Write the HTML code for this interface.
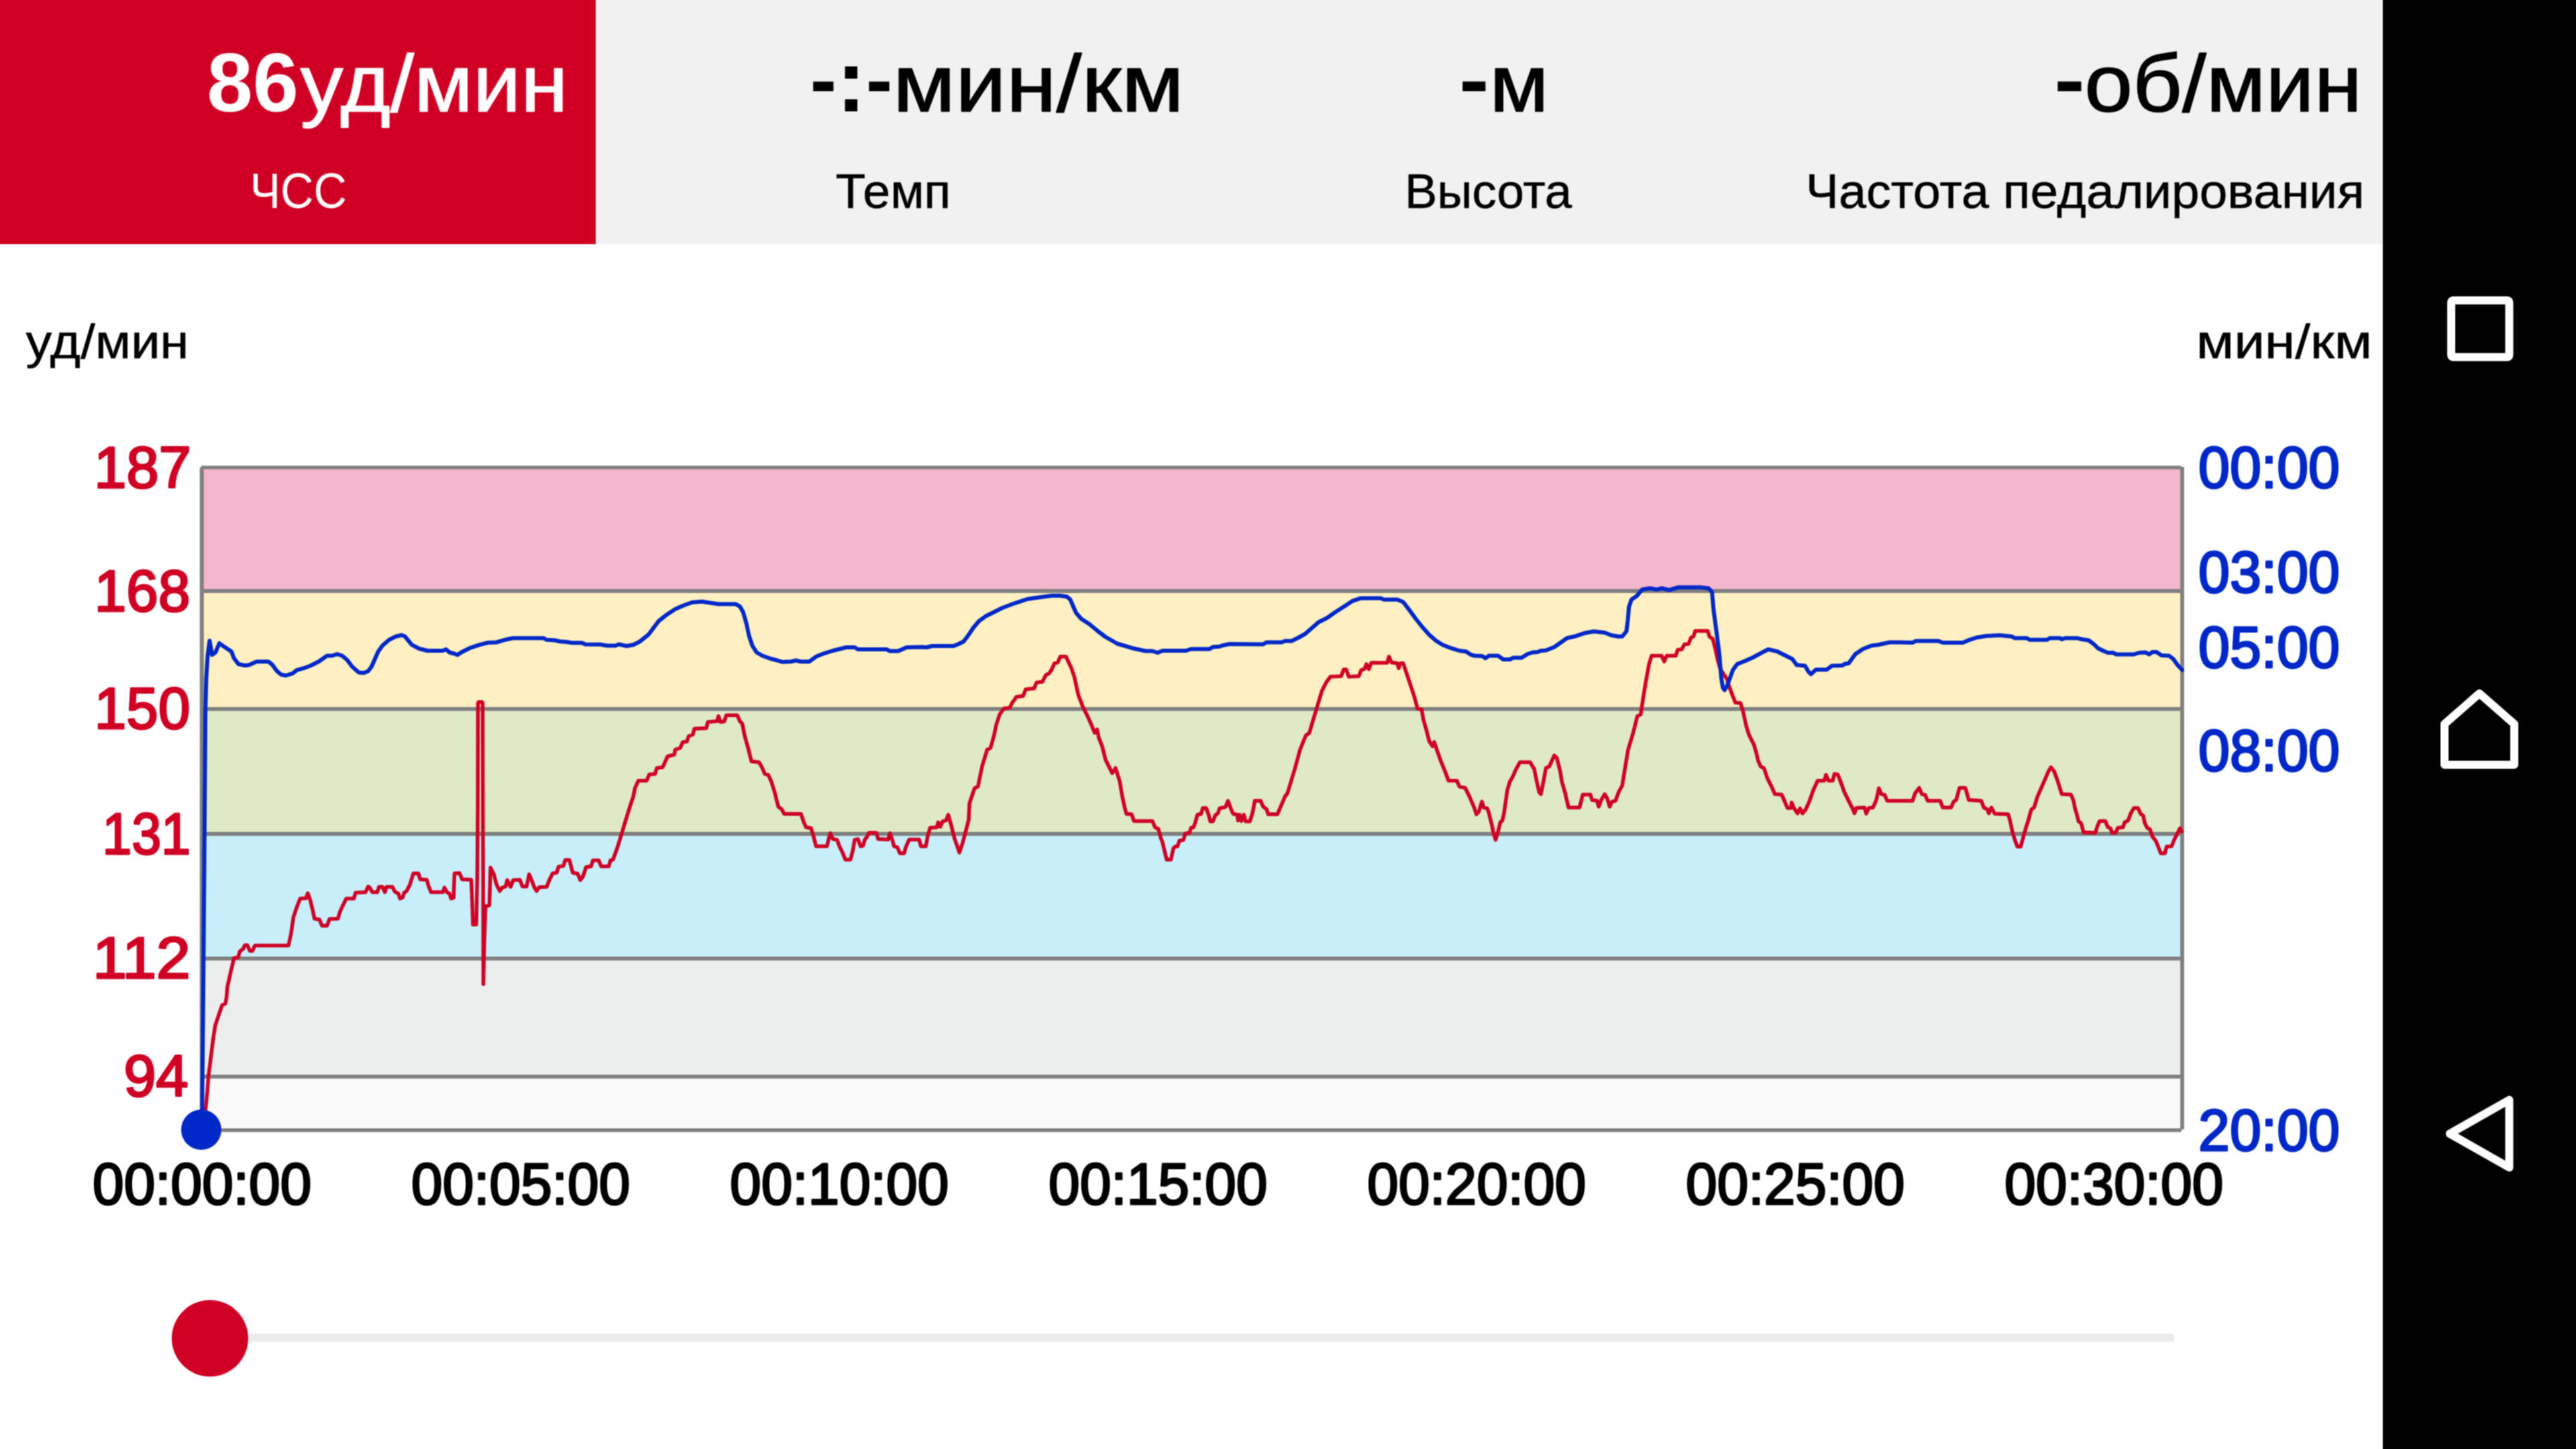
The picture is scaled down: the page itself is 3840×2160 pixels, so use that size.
<!DOCTYPE html>
<html lang="ru">
<head>
<meta charset="utf-8">
<title>ЧСС</title>
<style>
html,body{margin:0;padding:0;background:#fff}
body{width:3840px;height:2160px;overflow:hidden;position:relative;font-family:"Liberation Sans",sans-serif}
svg{position:absolute;left:-20px;top:-20px;display:block}
text{font-family:"Liberation Sans",sans-serif;white-space:pre}
</style>
</head>
<body>
<svg width="3880" height="2200" viewBox="-20 -20 3880 2200">
<defs><filter id="soft" filterUnits="userSpaceOnUse" x="-20" y="-20" width="3880" height="2200" color-interpolation-filters="sRGB"><feConvolveMatrix order="3" kernelMatrix="0.0625 0.1250 0.0625 0.1250 0.2500 0.1250 0.0625 0.1250 0.0625" divisor="1" edgeMode="duplicate" preserveAlpha="true"/></filter></defs>
<g id="scene">
<!-- page background, header tiles, system navigation bar -->
<rect x="-20" y="-20" width="3880" height="2200" fill="#fff"/>
<rect x="-20" y="-20" width="3572" height="384" fill="#f1f1f1"/>
<rect x="-20" y="-20" width="908" height="384" fill="#d00024"/>
<rect x="3552" y="-20" width="308" height="2200" fill="#000"/>
<!-- heart-rate zones -->
<rect x="300.8" y="696.9" width="2952.2" height="184.1" fill="#f4b6cc"/>
<rect x="300.8" y="881" width="2952.2" height="175.8" fill="#fef0c2"/>
<rect x="300.8" y="1056.8" width="2952.2" height="186.2" fill="#e0e9c6"/>
<rect x="300.8" y="1243" width="2952.2" height="185.9" fill="#c7eef9"/>
<rect x="300.8" y="1428.9" width="2952.2" height="176" fill="#eceeed"/>
<rect x="300.8" y="1604.9" width="2952.2" height="79.9" fill="#f9f9f9"/>
<g stroke="#808080" fill="none" stroke-width="5.8">
<line x1="300.8" y1="881" x2="3253" y2="881"/>
<line x1="300.8" y1="1056.8" x2="3253" y2="1056.8"/>
<line x1="300.8" y1="1243" x2="3253" y2="1243"/>
<line x1="300.8" y1="1428.9" x2="3253" y2="1428.9"/>
<line x1="300.8" y1="1604.9" x2="3253" y2="1604.9"/>
<line x1="300" y1="696.9" x2="3251.8" y2="696.9" stroke-width="5.4"/>
<line x1="300" y1="1684.8" x2="3251.8" y2="1684.8" stroke-width="5.6"/>
<line x1="300.8" y1="696.4" x2="300.8" y2="1685" stroke-width="6"/>
<line x1="3253" y1="696" x2="3253" y2="1683.6"/>
</g>
<!-- heart rate (red) and pace (blue) series -->
<polyline id="hr" fill="none" stroke="#d00024" stroke-width="5.5" stroke-linejoin="round" stroke-linecap="round" points="303,1685 306.5,1653.5 309,1628 310.7,1604.6 313.3,1584.4 317.5,1550.7 320.8,1528.8 325.9,1513.7 331,1498.5 336,1496 337.7,1486.7 338.8,1472 343.8,1449.5 348.8,1428.2 355,1427 357.5,1418.2 362.5,1414.5 365,1409 368.8,1409 372.5,1417.5 376.2,1417.5 380,1409.5 430,1409.5 433.8,1392 437.5,1367 442.5,1352 447.5,1339.5 456.2,1339 458.8,1331.5 462.5,1342 466.2,1357 468.8,1369.5 476.2,1370.8 480,1380 487.5,1380 491.2,1370 503.8,1369.5 506.2,1360.8 510,1352 516.2,1339.5 527.5,1339.5 530,1330.8 545,1330 548.8,1321.5 551.2,1323.2 555,1330 562.5,1330 565,1322 570,1322 573.8,1330 576.2,1322 585,1322 588.8,1329.5 593.8,1332 596.2,1339.5 600,1338.2 602.5,1330.8 606.2,1328.2 611.2,1318.2 616.2,1302 623.8,1302 626.2,1310.8 636.2,1311.5 638.8,1320.8 642.5,1330 660,1330 662.5,1323.2 666.2,1330 670,1332 672.5,1339.5 676.2,1338.2 677.5,1302 685,1301.5 688.8,1310.8 702.5,1311.5 703.8,1342 705,1378.2 710,1378.2 711.5,1302 712.2,1202 712.5,1048.2 713.5,1046.5 718.5,1046.5 719.5,1048.2 719.8,1202 720.2,1327 720.5,1467 722,1402 723.8,1350.8 729.5,1349.5 731.2,1293.2 736.2,1303.2 740,1318.2 745,1328.2 748.8,1323.2 753.8,1321.5 756.2,1312 761.2,1322 765,1312 775,1311.5 778.8,1321.5 785,1321.5 788.8,1303.2 792.5,1312 796.2,1322 800,1328.2 803.8,1322.5 815,1322 818.8,1312 823.8,1302 830,1300.8 832.5,1292 840,1290.8 842.5,1282 848.8,1282 853.8,1300.8 861.2,1302.5 865,1312 868.8,1307 873.8,1292.5 881.2,1291.5 883.8,1282.5 892.5,1282.5 896.2,1291.5 907.5,1291.5 910,1282.5 913.8,1281.5 920,1264.5 926.2,1244.5 932.5,1223.2 939,1202.5 944,1187.5 946.5,1175 951.5,1163.8 964,1163.8 967.8,1154.5 976.5,1153.8 979,1145 987.8,1143.8 995.2,1127.5 1005.2,1125 1006.5,1117.5 1014,1115 1017.8,1106.2 1024,1105.5 1026.5,1097.5 1032.8,1095 1035.2,1086.2 1052.8,1085.5 1055.2,1076.2 1069,1075 1071,1067.5 1074,1076.2 1079.5,1075.5 1082.8,1066.2 1099,1066.2 1102.8,1075 1106.5,1078.8 1110.2,1097.5 1115.2,1115 1120.2,1135 1131.5,1136.2 1135.2,1142.5 1140.2,1153.8 1145.2,1155 1150.2,1166.2 1155.2,1182.5 1160.2,1202.5 1165.2,1206.2 1169,1213.2 1194,1213.2 1197.8,1224.5 1201.5,1233.2 1209,1234.5 1212.8,1247 1216.5,1261.5 1232.8,1261.5 1235.2,1250.8 1237.8,1242 1241.5,1250.8 1247.8,1252 1251.5,1262 1256.5,1272 1260.2,1281.5 1267.8,1281.5 1271.5,1267 1274,1252 1279,1250.8 1282.8,1261.5 1286.5,1260.8 1289,1252 1292.8,1247 1295.2,1241.5 1306.5,1241.5 1309,1250.8 1324,1251.5 1326.5,1242 1330.2,1252 1332.8,1261.5 1337.8,1263.2 1341.5,1272 1347.8,1272 1350.2,1263.2 1355.2,1251.5 1370.2,1251.5 1372.8,1261.5 1380.2,1261.5 1382.8,1247 1386.5,1234 1396.5,1233.2 1398.5,1225.8 1401.5,1232.5 1405.2,1224.5 1410.2,1223.2 1413.5,1214.5 1417.8,1229.5 1422.8,1249.5 1430.2,1270.8 1435.2,1255.8 1440.2,1237 1444,1222 1445.2,1197.5 1452.8,1175 1457.8,1172.5 1464,1142.5 1471.5,1117.5 1476.5,1115 1481.5,1097.5 1485.2,1080 1490.2,1065 1496.5,1056.2 1505.2,1055 1509,1047.5 1515.2,1038.8 1525.2,1037.5 1529,1027.5 1541.5,1026.2 1545.2,1017.5 1554,1016.2 1559,1006.2 1564,1003.8 1568,997.5 1571.8,988.8 1576.8,987.5 1580.5,978.8 1589.2,978.8 1593,987.5 1596.8,995 1601.8,1010 1605.5,1027.5 1608,1037.5 1614.2,1053.8 1620.5,1066.2 1626.8,1080 1631.8,1092.5 1635.5,1087.5 1638,1100 1643,1112.5 1648,1132.5 1654.2,1145 1658,1152.5 1663,1145 1669.2,1165 1673,1187.5 1676.8,1205 1679.2,1213.2 1686.8,1213.8 1690.5,1224 1718,1224 1721.8,1233.2 1726.8,1235.8 1730.5,1249.5 1733,1255.8 1736.8,1272 1739.2,1281.5 1745.5,1281.5 1749.2,1264.5 1751.8,1262 1755.5,1261.5 1758,1253.2 1764.2,1252 1766.8,1242.5 1773,1241.5 1775.5,1234 1779.2,1233.2 1781.8,1225.8 1785,1214.5 1790.5,1213.2 1793,1204.5 1798,1204.5 1801.8,1215 1804.2,1224.5 1808,1224.5 1811.8,1215 1815.5,1212.5 1818,1205 1826.8,1203 1830.5,1193.8 1834.2,1203.8 1838,1213 1844.2,1214.5 1845.5,1223.2 1848,1214.5 1850.5,1224 1854.2,1214.5 1856.8,1224.5 1863,1224.5 1866.8,1213.2 1868.5,1205 1870.5,1193.8 1879.2,1193.8 1883,1202.5 1888,1206.2 1890.5,1213.8 1904.2,1213.8 1908,1205 1915.5,1187.5 1919.2,1182.5 1923,1170 1930.5,1145 1938,1117.5 1943,1105 1946.8,1096.2 1951.8,1092.5 1955.5,1080 1963,1055 1970.5,1030 1976.8,1017.5 1983,1008.8 1999.2,1008 2003,998 2006.8,998 2010.5,1008.8 2025.5,1008 2029.2,998.8 2034.2,997 2036.8,990 2040.5,997.5 2044.2,988 2068,988 2070.5,978.8 2074.2,987.5 2083,988.8 2085,996.2 2087.5,988.8 2091.8,988.8 2096.8,1003.8 2103,1022.5 2108,1037.5 2113,1056.2 2119.2,1057.5 2121.8,1072.5 2126.8,1090 2130.5,1105 2135.5,1112.5 2138,1106.2 2141.8,1117.5 2148,1135 2154.2,1150 2159.2,1163.8 2171.8,1163.8 2175.5,1172.5 2184.2,1174.5 2190.5,1187.5 2198,1205 2200.8,1213.8 2204.5,1210 2209,1195 2212,1203.8 2217,1205 2219.5,1212 2223.2,1227 2227,1244.5 2229.5,1252 2233.2,1239.5 2236.5,1225.8 2239.5,1223.2 2242,1212.5 2247,1177.5 2250.8,1165 2254.5,1158.8 2259.5,1147.5 2265.8,1136.2 2280.8,1136.2 2287,1146.2 2290.8,1165 2294.5,1181.2 2297,1183.8 2300.8,1165 2304.5,1145 2309.5,1142.5 2317,1126.2 2320.8,1130 2325.8,1150 2328.2,1165 2333.2,1182.5 2338.2,1203.8 2354.5,1203.8 2359.5,1184.5 2370.8,1184.5 2373.2,1192.5 2380.8,1193.8 2383.2,1202.5 2387,1192.5 2392,1183.8 2395.8,1190 2399.5,1202.5 2403.2,1195 2408.2,1193.8 2413.2,1180 2418.2,1171.2 2422,1147.5 2427,1117.5 2434.5,1092.5 2440.8,1067.5 2445.8,1065 2449.5,1040 2453.2,1017.5 2458.2,990 2462,977.5 2477,977.5 2480.8,986.2 2484.5,977.5 2498.2,977.5 2500.8,968.8 2507,968 2510.8,960.5 2517,960 2520.8,950.5 2524.5,948.8 2527,940.5 2545.8,940.5 2548.2,948.8 2553.2,952.5 2557,967.5 2560.8,985 2564.5,997.5 2569.5,1005 2574.5,1012.5 2578.2,1025 2582,1035 2587,1047.5 2594.5,1048 2598.2,1060 2603.2,1082.5 2607,1095 2614.5,1110 2618.2,1122.5 2620.8,1133.8 2624.5,1142.5 2629.5,1145 2634.5,1160 2640.8,1172.5 2645.8,1183.8 2655.8,1184.5 2659.5,1192.5 2664.5,1204.5 2669.5,1204.5 2670.8,1196.2 2674.5,1205 2679.5,1212.5 2683.2,1205 2687,1212.5 2692,1206.2 2697,1195 2703.2,1177.5 2709.5,1163.8 2719.5,1163.8 2722,1155 2725.8,1163.8 2732,1163.8 2734.5,1153.8 2739.5,1154.5 2743.2,1163.8 2749.5,1181.2 2757,1196.2 2762,1206.2 2764.5,1212.5 2767,1204.5 2779.5,1203.8 2782,1213 2785.8,1204.5 2792,1203.8 2797,1192.5 2800.8,1175 2804.5,1183.8 2809.5,1185 2813.2,1193.8 2832,1193.8 2851,1193.8 2854.8,1182.5 2861,1174.5 2864.8,1183.8 2869.8,1185 2873.5,1193.8 2892.2,1193.8 2896,1203.8 2908.5,1203.8 2912.2,1195 2916,1192.5 2921,1174.5 2929.8,1174.5 2934.8,1192.5 2953.5,1193.8 2957.2,1203.8 2962.2,1206.2 2964.8,1212.5 2968.5,1203.8 2973.5,1213 2993.5,1213.8 2996,1222 2999.8,1239.5 3003.5,1252 3007.2,1262 3012.2,1262 3016,1248.2 3019.8,1234.5 3023.5,1223.2 3027.2,1209.5 3028.5,1206.2 3032.2,1203.8 3037.2,1187.5 3046,1167.5 3053.5,1150 3057.2,1143.8 3062.2,1150 3067.2,1163.8 3073.5,1183.8 3087.2,1184.5 3091,1193.8 3093,1204.5 3096,1214.5 3098.5,1224.5 3102.2,1227 3106,1240.8 3123.5,1241.5 3126,1233.2 3129.8,1224 3138.5,1224 3142.2,1233.2 3146,1234.5 3148.5,1241.5 3153.5,1241.5 3157.2,1234 3164.8,1233.2 3167.2,1225.8 3172.2,1223.2 3176,1213.2 3181,1204.5 3187.2,1204.5 3191,1213.2 3194.8,1215.8 3197.2,1227 3201,1234.5 3204.8,1235.8 3208.5,1247 3213.5,1253.2 3217.2,1262 3221,1272 3227.2,1272 3229.8,1262 3237.2,1261.5 3241,1252 3246,1242 3249.8,1234.5 3252.2,1239.5"/>
<polyline id="pace" fill="none" stroke="#0028c8" stroke-width="6.0" stroke-linejoin="round" stroke-linecap="round" points="301,1685 303,1480 305,1222 306.2,1060 307.5,1010 309.5,977.5 312.5,955 316.2,976.2 321.2,972.5 327,958.8 333.8,963.8 345,971.2 348.8,981.2 355.5,990 365,992 371.2,991.2 382.5,986.2 400,986.2 406.2,991.2 412.5,1000 418.8,1005.5 426.2,1007 436.2,1003.8 442.5,998.8 452.5,996.2 462.5,992.5 475,986.2 487.5,977.5 495,977.5 502.5,975 510,977.5 517.5,983.8 525,993.8 535,1002.5 542.5,1003 548.8,1000.5 553.8,993.8 558.8,982.5 563.8,971.2 570,962.5 580,953.8 590,948.8 598.8,946.8 603.8,948.8 608.8,955 613.8,961.2 625,967 637.5,970 660,970 665,968 670,972.5 677.5,974.5 682,976.2 687.5,972.5 700,966.2 715,961.2 727.5,958 740,957.5 752.5,953.8 765,951.2 810,951.2 815,953.8 827.5,954.5 835,956.2 845,957 852.5,958.2 867.5,958.2 872.5,960.5 895,960.8 905,962.5 917.5,962.5 922.5,960.5 934,963 944,961.2 954,956.2 966.5,946.2 974,936.2 981.5,926.2 994,916.2 1006.5,908 1019,902.5 1031.5,898 1046.5,896.8 1059,898.8 1071.5,900.5 1096.5,900.5 1102.8,903.8 1107.8,912.5 1112.8,930 1116.5,947.5 1121.5,962.5 1127.8,972.5 1136.5,977.5 1149,982 1159,984.5 1166.5,986.8 1179,986.2 1186.5,984.5 1194,986.2 1206.5,986.2 1216.5,978.8 1229,973.8 1241.5,970 1251.5,967.5 1261.5,965 1274,965 1279,968 1321.5,968 1326.5,970.5 1339,970.5 1351.5,965 1374,964.5 1381.5,965 1389,963 1421.5,963 1429,960 1436.5,956.2 1444,946.2 1451.5,935 1459,926.2 1469,918.8 1481.5,912.5 1494,906.2 1509,900.5 1531.5,893 1549,890.5 1564,888.5 1568,888 1580.5,888 1590.5,889.5 1595.5,893.8 1599.2,902.5 1604.2,913.8 1611.8,922.5 1624.2,930.5 1635.5,940 1648,949.5 1665.5,959.5 1688,966.2 1708,970.5 1718,970.5 1725.5,973 1733,970 1768,970 1775.5,967.5 1803,967.5 1808,964.5 1818,963.8 1823,962 1833,960 1883,960.5 1888,957.5 1910.5,957.5 1915.5,955.5 1925.5,955.5 1935.5,950.5 1945.5,945 1955.5,936.2 1965.5,927.5 1978,921.2 1990.5,912.5 2003,904.5 2015.5,896.2 2028,891.8 2058,891.8 2063,893.8 2083,893.8 2091.8,897.5 2100.5,908.8 2110.5,922.5 2120.5,935 2130.5,946.2 2140.5,955 2150.5,961.2 2163,966.2 2175.5,970 2185.5,971.2 2193,976.2 2198.2,977.5 2209.5,978 2214.5,981.2 2219.5,977.5 2233.2,977.5 2240.8,983 2250.8,983 2255.8,980.5 2268.2,980.5 2277,975 2284.5,972.5 2292,972 2297,970 2304.5,969.5 2317,964.5 2327,957.5 2335.8,951.2 2347,948.8 2362,943.8 2375.8,941.2 2392,943 2402,947 2412,948.8 2418.2,948.8 2424.5,941.2 2426.5,925 2428.2,905 2432,893.8 2439.5,888.8 2448.2,878.8 2459.5,877 2469.5,878.8 2477,877 2488.2,879.5 2502,875.5 2534.5,875.5 2547,877 2552,882.5 2554.5,910 2559.5,947.5 2563.2,977.5 2565.8,1010 2568.2,1025 2570.8,1028.8 2574.5,1022.5 2578.2,1012.5 2583.2,998.8 2589.5,990 2602,985 2613.2,980 2624.5,973.8 2635.8,968 2649.5,971.2 2662,977.5 2672,982.5 2678.2,991.2 2690.8,992.5 2695.8,1001.2 2699.5,1005 2707,998.2 2723.2,998.2 2730.8,992.5 2745.8,992 2750.8,989.5 2755.8,988.8 2765.8,975 2777,967.5 2789.5,962.5 2799.5,961.2 2817,957.5 2832,957.5 2851,958 2856,955.5 2889.8,955.5 2896,958 2926,958 2936,953.8 2946,950.5 2961,948 2981,947 2998.5,948.8 3003.5,951.2 3021,951.2 3026,953.8 3051,953.8 3056,951.2 3071,951.2 3073.5,953 3078.5,951.2 3096,951.2 3103.5,953 3113.5,954.5 3121,960 3127.2,966.2 3136,970.5 3142.2,973 3149.8,973 3154.8,975.5 3181,975.5 3188.5,973 3198.5,972.5 3203.5,975.5 3208.5,972 3214.8,972 3222.2,977 3233.5,977.5 3239.8,982.5 3246,991.2 3253,998.8"/>
<circle cx="300" cy="1684" r="30" fill="#0028c8"/>
<!-- seek bar -->
<rect x="313" y="1988" width="2928" height="12" fill="#ebebeb"/>
<circle cx="313" cy="1995" r="57" fill="#d00024"/>
<!-- navigation icons: recents, home, back -->
<g fill="none" stroke="#fff" stroke-width="12" stroke-linejoin="round" stroke-linecap="round">
<rect x="3654" y="447.7" width="86.5" height="84.6" rx="3" ry="3"/>
<path d="M3644 1140 L3644 1079.3 L3696 1033.8 L3748 1079.3 L3748 1140 Z"/>
<path d="M3740.5 1639.6 L3740.5 1740.4 L3651.8 1690 Z"/>
</g>
<!-- header values and captions -->
<text><tspan id="v1a" x="308.53" y="166" font-size="123.5" fill="#fff" font-weight="700" textLength="136.53" lengthAdjust="spacingAndGlyphs">86</tspan><tspan id="v1b" x="447.8" y="166" font-size="120" fill="#fff" textLength="399.05" lengthAdjust="spacingAndGlyphs" stroke="#fff" stroke-width="1.5" stroke-linejoin="round">уд/мин</tspan></text>
<text id="l1" x="372.42" y="310" font-size="75" fill="#fff" textLength="144.63" lengthAdjust="spacingAndGlyphs">ЧСС</text>
<text><tspan id="v2a" x="1207.42" y="166" font-size="120" fill="#000" font-weight="700" textLength="123.04" lengthAdjust="spacingAndGlyphs"><tspan dy="-6">-</tspan><tspan dy="6" font-size="132">:</tspan><tspan dy="-6">-</tspan></tspan><tspan id="v2b" x="1331.07" y="166" font-size="120" fill="#000" textLength="433.89" lengthAdjust="spacingAndGlyphs" stroke="#000" stroke-width="1.5" stroke-linejoin="round">мин/км</tspan></text>
<text id="l2" x="1245.6" y="309.7" font-size="73" fill="#000" textLength="171.74" lengthAdjust="spacingAndGlyphs" stroke="#000" stroke-width="0.6" stroke-linejoin="round">Темп</text>
<text><tspan id="v3a" x="2175.08" y="160" font-size="120" fill="#000" font-weight="700" textLength="44.78" lengthAdjust="spacingAndGlyphs">-</tspan><tspan id="v3b" x="2220.44" y="166" font-size="120" fill="#000" textLength="88.05" lengthAdjust="spacingAndGlyphs" stroke="#000" stroke-width="1.5" stroke-linejoin="round">м</tspan></text>
<text id="l3" x="2093.94" y="309.7" font-size="73" fill="#000" textLength="249.26" lengthAdjust="spacingAndGlyphs" stroke="#000" stroke-width="0.6" stroke-linejoin="round">Высота</text>
<text><tspan id="v4a" x="3062.04" y="160" font-size="120" fill="#000" font-weight="700" textLength="45.97" lengthAdjust="spacingAndGlyphs">-</tspan><tspan id="v4b" x="3107.3" y="166" font-size="120" fill="#000" textLength="413.68" lengthAdjust="spacingAndGlyphs" stroke="#000" stroke-width="1.5" stroke-linejoin="round">об/мин</tspan></text>
<text><tspan id="l4a" x="2691.86" y="309.7" font-size="73" fill="#000" textLength="273.22" lengthAdjust="spacingAndGlyphs" stroke="#000" stroke-width="0.6" stroke-linejoin="round">Частота</tspan> <tspan id="l4b" x="2985.87" y="309.7" font-size="73" fill="#000" textLength="538.72" lengthAdjust="spacingAndGlyphs" stroke="#000" stroke-width="0.6" stroke-linejoin="round">педалирования</tspan></text>
<!-- axis units -->
<text id="u1" x="38.5" y="534" font-size="72" fill="#000" textLength="243.02" lengthAdjust="spacingAndGlyphs" stroke="#000" stroke-width="0.6" stroke-linejoin="round">уд/мин</text>
<text id="u2" x="3273.81" y="534" font-size="72" fill="#000" textLength="262.29" lengthAdjust="spacingAndGlyphs" stroke="#000" stroke-width="0.6" stroke-linejoin="round">мин/км</text>
<!-- heart-rate axis -->
<text id="y0" x="140.15" y="726.6" font-size="87.5" fill="#d00024" textLength="144.74" lengthAdjust="spacingAndGlyphs" stroke="#d00024" stroke-width="3" stroke-linejoin="round">187</text>
<text id="y1" x="140.81" y="910.6" font-size="87.5" fill="#d00024" textLength="142.64" lengthAdjust="spacingAndGlyphs" stroke="#d00024" stroke-width="3" stroke-linejoin="round">168</text>
<text id="y2" x="140.81" y="1086.2" font-size="87.5" fill="#d00024" textLength="142.64" lengthAdjust="spacingAndGlyphs" stroke="#d00024" stroke-width="3" stroke-linejoin="round">150</text>
<text id="y3" x="152.59" y="1272.6" font-size="87.5" fill="#d00024" textLength="131.62" lengthAdjust="spacingAndGlyphs" stroke="#d00024" stroke-width="3" stroke-linejoin="round">131</text>
<text id="y4" x="138.18" y="1458.2" font-size="87.5" fill="#d00024" textLength="145.74" lengthAdjust="spacingAndGlyphs" stroke="#d00024" stroke-width="3" stroke-linejoin="round">112</text>
<text id="y5" x="184.53" y="1634" font-size="87.5" fill="#d00024" textLength="96.18" lengthAdjust="spacingAndGlyphs" stroke="#d00024" stroke-width="3" stroke-linejoin="round">94</text>
<!-- pace axis -->
<text id="r0" x="3277.07" y="726.6" font-size="87.5" fill="#0028c8" textLength="210.92" lengthAdjust="spacingAndGlyphs" stroke="#0028c8" stroke-width="3" stroke-linejoin="round">00:00</text>
<text id="r1" x="3277.07" y="882.6" font-size="87.5" fill="#0028c8" textLength="210.92" lengthAdjust="spacingAndGlyphs" stroke="#0028c8" stroke-width="3" stroke-linejoin="round">03:00</text>
<text id="r2" x="3277.07" y="994.6" font-size="87.5" fill="#0028c8" textLength="210.92" lengthAdjust="spacingAndGlyphs" stroke="#0028c8" stroke-width="3" stroke-linejoin="round">05:00</text>
<text id="r3" x="3277.07" y="1148.6" font-size="87.5" fill="#0028c8" textLength="210.92" lengthAdjust="spacingAndGlyphs" stroke="#0028c8" stroke-width="3" stroke-linejoin="round">08:00</text>
<text id="r4" x="3277.07" y="1714.6" font-size="87.5" fill="#0028c8" textLength="210.92" lengthAdjust="spacingAndGlyphs" stroke="#0028c8" stroke-width="3" stroke-linejoin="round">20:00</text>
<!-- time axis -->
<text id="x0" x="138.09" y="1794.6" font-size="87.5" fill="#000" textLength="326.27" lengthAdjust="spacingAndGlyphs" stroke="#000" stroke-width="3" stroke-linejoin="round">00:00:00</text>
<text id="x1" x="613.09" y="1794.6" font-size="87.5" fill="#000" textLength="326.27" lengthAdjust="spacingAndGlyphs" stroke="#000" stroke-width="3" stroke-linejoin="round">00:05:00</text>
<text id="x2" x="1088.09" y="1794.6" font-size="87.5" fill="#000" textLength="326.27" lengthAdjust="spacingAndGlyphs" stroke="#000" stroke-width="3" stroke-linejoin="round">00:10:00</text>
<text id="x3" x="1563.09" y="1794.6" font-size="87.5" fill="#000" textLength="326.27" lengthAdjust="spacingAndGlyphs" stroke="#000" stroke-width="3" stroke-linejoin="round">00:15:00</text>
<text id="x4" x="2038.09" y="1794.6" font-size="87.5" fill="#000" textLength="326.27" lengthAdjust="spacingAndGlyphs" stroke="#000" stroke-width="3" stroke-linejoin="round">00:20:00</text>
<text id="x5" x="2513.09" y="1794.6" font-size="87.5" fill="#000" textLength="326.27" lengthAdjust="spacingAndGlyphs" stroke="#000" stroke-width="3" stroke-linejoin="round">00:25:00</text>
<text id="x6" x="2988.09" y="1794.6" font-size="87.5" fill="#000" textLength="326.27" lengthAdjust="spacingAndGlyphs" stroke="#000" stroke-width="3" stroke-linejoin="round">00:30:00</text>
</g>
<use href="#scene" filter="url(#soft)"/>
</svg>
</body>
</html>
